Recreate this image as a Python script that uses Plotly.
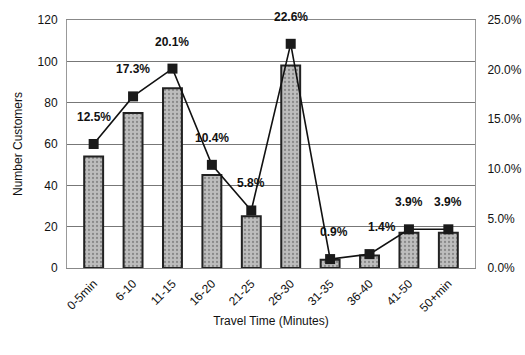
import plotly.graph_objects as go

categories = ["0-5min", "6-10", "11-15", "16-20", "21-25", "26-30", "31-35", "36-40", "41-50", "50+min"]
customers = [54, 75, 87, 45, 25, 98, 4, 6, 17, 17]
share_pct = [12.5, 17.3, 20.1, 10.4, 5.8, 22.6, 0.9, 1.4, 3.9, 3.9]
left_ticks = [0, 20, 40, 60, 80, 100, 120]
right_ticks = [0.0, 5.0, 10.0, 15.0, 20.0, 25.0]

font_family = "Liberation Sans, Arial, sans-serif"

fig = go.Figure()

fig.add_trace(go.Bar(
    x=categories,
    y=customers,
    marker=dict(
        color="#b8b8b8",
        line=dict(color="#222222", width=2),
        pattern=dict(shape=".", fgcolor="#555555", bgcolor="#bdbdbd", size=4, solidity=0.25),
    ),
    width=0.48,
    showlegend=False,
))

share_frac = [p / 100 for p in share_pct]
fig.add_trace(go.Scatter(
    x=categories,
    y=share_frac,
    yaxis="y2",
    mode="lines+markers",
    line=dict(color="#111111", width=1.6),
    marker=dict(symbol="square", size=10, color="#1a1a1a"),
    showlegend=False,
))

# Percentage labels sit a little above each marker
label_dx = [0, 0, 0, 0, 0, 0, 4, 12, 0, 0]
for cat, frac, pct, dx in zip(categories, share_frac, share_pct, label_dx):
    fig.add_annotation(
        x=cat, y=frac, xref="x", yref="y2",
        text=f"<b>{pct:.1f}%</b>",
        showarrow=False, yshift=27, xshift=dx,
        font=dict(family=font_family, size=12, color="#111111"),
    )

fig.update_layout(
    width=525, height=355,
    margin=dict(l=67, r=50, t=20, b=87, autoexpand=False),
    paper_bgcolor="white",
    plot_bgcolor="white",
    font=dict(family=font_family, size=12, color="#111111"),
    bargap=0.5,
    xaxis=dict(
        tickangle=-45,
        showline=True, linecolor="#888888", linewidth=1,
        ticks="", showgrid=False,
        title=dict(text="Travel Time (Minutes)", font=dict(size=12), standoff=2),
        tickfont=dict(size=12),
        ticklabelstandoff=3,
        mirror=True,
        automargin=False,
    ),
    yaxis=dict(
        range=[0, 120],
        tickvals=left_ticks,
        showgrid=True, gridcolor="#777777", gridwidth=1,
        showline=True, linecolor="#999999", linewidth=1,
        title=dict(text="Number Customers", font=dict(size=12), standoff=12),
        tickfont=dict(size=12),
        ticklabelstandoff=6,
        zeroline=False,
        automargin=False,
    ),
    yaxis2=dict(
        overlaying="y", side="right",
        range=[0, 0.25],
        tickvals=[t / 100 for t in right_ticks],
        tickformat=".1%",
        showgrid=False,
        showline=True, linecolor="#999999", linewidth=1,
        tickfont=dict(size=12),
        ticklabelstandoff=9,
        zeroline=False,
        automargin=False,
    ),
)

fig.write_html("out.html")
